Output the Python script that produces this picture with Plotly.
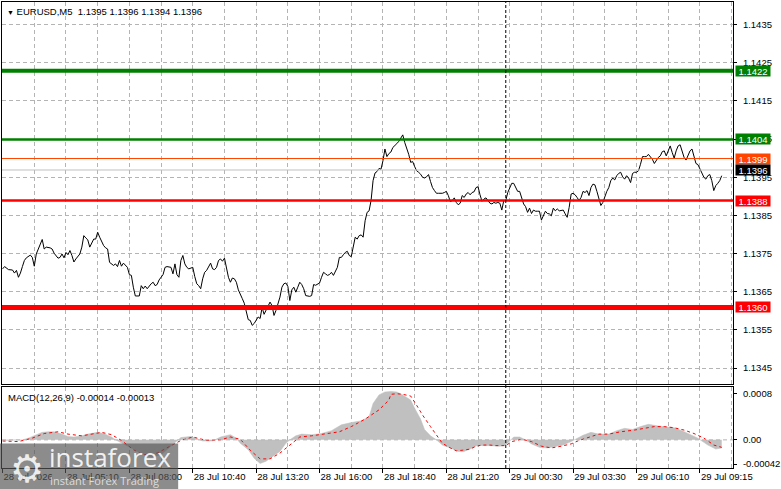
import plotly.graph_objects as go
from plotly.subplots import make_subplots

# ---- data (bar index = M5 bar from the left edge) ----
bars = [0, 1, 3, 5, 6, 7, 8, 9, 10, 11, 12, 13, 14, 15, 16, 17, 18, 19, 20, 21, 22, 24, 25, 26, 28, 29,
        30, 31, 32, 33, 34, 35, 36, 37, 39, 40, 41, 42, 43, 44, 46, 47, 48, 49, 50, 51, 52, 53, 54, 56,
        57, 58, 59, 60, 61, 62, 63, 64, 65, 66, 67, 69, 70, 71, 72, 73, 74, 75, 76, 77, 78, 79, 81, 82,
        83, 85, 86, 87, 88, 89, 90, 91, 92, 93, 94, 96, 97, 98, 99, 100, 101, 102, 103, 104, 105, 106,
        107, 108, 109, 110, 111, 112, 113, 114, 115, 116, 117, 118, 119, 120, 121, 122, 123,
        124, 125, 126, 127, 128, 129, 130, 131, 132, 133, 134, 135, 136, 137, 138, 139, 140, 141, 142,
        143, 144, 145, 146, 147, 148, 149, 150, 151, 152, 153, 154, 155, 156, 157, 158, 159, 160, 161,
        162, 163, 164, 165, 166, 167, 168, 169, 170, 171, 172, 173, 174, 175, 176, 177, 178, 179, 180,
        181, 182, 183, 184, 185, 186, 187, 188, 189, 190, 191, 192, 193, 194, 195, 196, 197, 198, 199,
        200, 201, 202, 203, 204, 205, 206, 207, 208, 209, 210, 211, 212, 213, 214, 215, 216, 217, 218,
        219, 220, 221, 222, 223, 224, 225, 226, 227, 228, 229, 230, 231, 232, 233, 234, 235, 236, 237,
        238, 239, 240, 241, 242, 243, 244, 245, 246, 247, 248, 249, 250, 251, 252, 253, 254, 255, 256,
        257, 258, 259, 260, 261, 262, 263, 264, 265, 266, 267, 268, 269, 270, 271, 272, 273, 274, 275,
        276, 277, 278, 279, 280, 281, 282, 283, 284, 285, 286, 287, 288, 289, 290, 291, 292, 293, 294,
        295, 296, 297, 298, 299, 300, 301, 302, 303, 304, 305, 306, 307, 308, 309, 310, 311, 312, 313,
        314, 315, 316, 317, 318, 319, 320, 321, 322, 323, 324, 325, 326, 327, 328, 329, 330, 331, 332,
        333, 334, 335, 336, 337, 338, 339, 340, 341, 342, 343, 344, 345, 346, 347, 348, 349, 350, 351,
        352, 353, 354, 355, 356, 357, 358, 359, 360, 361, 362, 363]
close = [1.13701, 1.13707, 1.13699, 1.13698, 1.13690, 1.13697, 1.13679, 1.13690, 1.13707, 1.13723,
         1.13730, 1.13733, 1.13737, 1.13731, 1.13708, 1.13740, 1.13753, 1.13766, 1.13778, 1.13753,
         1.13758, 1.13756, 1.13753, 1.13742, 1.13729, 1.13731, 1.13740, 1.13730, 1.13744, 1.13738,
         1.13749, 1.13736, 1.13719, 1.13727, 1.13740, 1.13758, 1.13788, 1.13782, 1.13777, 1.13758,
         1.13779, 1.13779, 1.13797, 1.13784, 1.13771, 1.13762, 1.13756, 1.13753, 1.13718, 1.13710,
         1.13714, 1.13707, 1.13723, 1.13708, 1.13716, 1.13710, 1.13705, 1.13686, 1.13684, 1.13653,
         1.13630, 1.13630, 1.13657, 1.13649, 1.13656, 1.13649, 1.13656, 1.13662, 1.13666, 1.13657,
         1.13660, 1.13672, 1.13686, 1.13705, 1.13707, 1.13705, 1.13688, 1.13714, 1.13686, 1.13679,
         1.13723, 1.13736, 1.13714, 1.13705, 1.13701, 1.13705, 1.13681, 1.13662, 1.13657, 1.13649,
         1.13675, 1.13692, 1.13697, 1.13705, 1.13716, 1.13701, 1.13699, 1.13705, 1.13723, 1.13727,
         1.13721, 1.13729, 1.13701, 1.13679, 1.13666, 1.13677, 1.13675, 1.13666, 1.13646, 1.13636,
         1.13623, 1.13611, 1.13592,
         1.13568, 1.13566, 1.13553, 1.13558, 1.13568, 1.13575, 1.13571, 1.13600, 1.13582, 1.13592,
         1.13601, 1.13614, 1.13605, 1.13579, 1.13592, 1.13610, 1.13627, 1.13653, 1.13662, 1.13664,
         1.13655, 1.13618, 1.13646, 1.13653, 1.13640, 1.13653, 1.13666, 1.13660, 1.13649, 1.13631,
         1.13629, 1.13629, 1.13631, 1.13660, 1.13658, 1.13662, 1.13664, 1.13679, 1.13692, 1.13688,
         1.13684, 1.13686, 1.13692, 1.13684, 1.13697, 1.13705, 1.13731, 1.13731, 1.13738, 1.13744,
         1.13747, 1.13736, 1.13733, 1.13762, 1.13784, 1.13779, 1.13788, 1.13790, 1.13784, 1.13827,
         1.13849, 1.13853, 1.13880, 1.13932, 1.13952, 1.13956, 1.13964, 1.13962, 1.13984, 1.14015,
         1.13995, 1.14003, 1.14007, 1.14019, 1.14023, 1.14029, 1.14035, 1.14045, 1.14052, 1.14032,
         1.14019, 1.14001, 1.13980, 1.13982, 1.13969, 1.13958, 1.13954, 1.13949, 1.13941, 1.13939,
         1.13942, 1.13948, 1.13930, 1.13914, 1.13906, 1.13899, 1.13899, 1.13899, 1.13899, 1.13901,
         1.13904, 1.13893, 1.13877, 1.13880, 1.13887, 1.13875, 1.13869, 1.13873, 1.13893, 1.13888,
         1.13897, 1.13901, 1.13895, 1.13901, 1.13903,
         1.13914, 1.13916, 1.13895, 1.13878, 1.13884, 1.13887, 1.13880, 1.13873, 1.13871, 1.13875,
         1.13873, 1.13875, 1.13873, 1.13855, 1.13880, 1.13880, 1.13901, 1.13914, 1.13925, 1.13925,
         1.13914, 1.13904, 1.13904, 1.13884, 1.13871, 1.13864, 1.13849, 1.13860, 1.13846, 1.13855,
         1.13852, 1.13852, 1.13852, 1.13829, 1.13843, 1.13852, 1.13846, 1.13845, 1.13840, 1.13860,
         1.13853, 1.13858, 1.13853, 1.13855, 1.13855, 1.13845, 1.13836, 1.13862, 1.13897, 1.13899,
         1.13895, 1.13888, 1.13880, 1.13888, 1.13904, 1.13901, 1.13906, 1.13893, 1.13914, 1.13923,
         1.13921, 1.13904, 1.13888, 1.13867, 1.13875, 1.13893, 1.13904, 1.13914, 1.13932, 1.13939,
         1.13934, 1.13945, 1.13951, 1.13954, 1.13942, 1.13936, 1.13945, 1.13939, 1.13927, 1.13951,
         1.13954, 1.13954, 1.13958, 1.13975, 1.13995, 1.13995, 1.13995, 1.14001, 1.13995, 1.13988,
         1.13977, 1.13986, 1.13993, 1.13997, 1.14008, 1.14010, 1.13997, 1.14010, 1.14023, 1.14006,
         1.13991, 1.14010, 1.14023, 1.14026, 1.14006, 1.13993, 1.13986, 1.13997, 1.14010, 1.14015,
         1.13997, 1.13977, 1.13974, 1.13962, 1.13950, 1.13941, 1.13936, 1.13945, 1.13948, 1.13932,
         1.13906, 1.13919, 1.13925, 1.13932, 1.13945, 1.13956]

# MACD main (histogram) and signal
macd_bars = [0, 5, 10, 13, 16, 20, 23, 26, 30, 33, 36, 40, 43, 48, 51, 55, 57, 60, 65, 70, 75, 80,
             85, 88, 90, 95, 98, 101, 106, 110, 115, 118, 120, 124, 127, 130, 133, 136, 140, 143, 145,
             148, 151, 156, 161, 166, 171, 176, 181, 185, 187, 190, 193, 196, 199, 202, 206, 208, 211,
             213, 216, 219, 222, 226, 230, 233, 236, 240, 242, 246, 251, 254, 256, 258, 261, 264, 267,
             271, 275, 279, 283, 287, 289, 293, 297, 301, 306, 310, 314, 318, 322, 326, 331, 335, 339,
             343, 347, 351, 353, 356, 360, 363]
macd_main = [-0.00001, -0.00001, 0.0, 0.00003, 0.00007, 0.00013, 0.00014, 0.00014, 0.00010, 0.00006,
             0.00005, 0.00007, 0.00010, 0.00013, 0.00011, 0.00005, 0.0, -0.00005, -0.00014, -0.00024,
             -0.00030, -0.00026, -0.00011, -0.00001, 0.00004, 0.00006, 0.00002, -0.00002, -0.00002,
             0.00005, 0.00009, 0.00003, -0.00006, -0.00017, -0.00032, -0.00041, -0.00037, -0.00030,
             -0.00020, -0.00006, 0.0, 0.00007, 0.00010, 0.00009, 0.00011, 0.00016, 0.00026, 0.00030,
             0.00033, 0.00040, 0.00063, 0.00078, 0.00083, 0.00084, 0.00083, 0.00078, 0.00069, 0.00055,
             0.00036, 0.00018, 0.00007, 0.0, -0.00009, -0.00014, -0.00020, -0.00020, -0.00016, -0.00009,
             -0.00010, -0.00010, -0.00011, -0.00009, -0.00001, 0.00005, 0.00005, 0.0, -0.00007, -0.00013,
             -0.00014, -0.00011, -0.00009, -0.00003, 0.00001, 0.00008, 0.00013, 0.00010, 0.00010,
             0.00016, 0.00020, 0.00018, 0.00023, 0.00027, 0.00024, 0.00023, 0.00021, 0.00016, 0.00010,
             0.00003, -0.00002, -0.00009, -0.00016, -0.00014]
signal_bars = [0, 8, 15, 21, 28, 33, 40, 45, 50, 55, 60, 66, 71, 78, 85, 90, 96, 103, 110, 115, 120,
               125, 130, 135, 140, 145, 150, 156, 163, 170, 176, 183, 190, 195, 196, 199, 202, 206, 209,
               212, 216, 219, 222, 226, 229, 232, 236, 239, 242, 246, 249, 254, 257, 262, 267, 272, 277,
               282, 287, 291, 296, 301, 306, 312, 319, 324, 329, 334, 339, 344, 349, 354, 359, 363]
macd_signal = [-0.00002, -0.00003, 0.00003, 0.00011, 0.00014, 0.00010, 0.00007, 0.00010, 0.00013,
               0.00009, -0.00001, -0.00017, -0.00026, -0.00023, -0.00010, -0.00001, 0.00005, -0.00001,
               0.0, 0.00005, 0.00001, -0.00018, -0.00033, -0.00033, -0.00023, -0.00009, 0.00005,
               0.00007, 0.00010, 0.00014, 0.00023, 0.00036, 0.00052, 0.00069, 0.00079, 0.00080, 0.00079,
               0.00076, 0.00060, 0.00043, 0.00023, 0.00009, -0.00006, -0.00014, -0.00019, -0.00018,
               -0.00016, -0.00011, -0.00009, -0.00009, -0.00010, -0.00010, -0.00003, 0.00001, -0.00003,
               -0.00011, -0.00014, -0.00011, -0.00007, -0.00001, 0.00005, 0.00010, 0.00010, 0.00014,
               0.00017, 0.00020, 0.00023, 0.00023, 0.00021, 0.00017, 0.00011, 0.00003, -0.00009, -0.00013]

# horizontal levels: value, label, colour, line width
level_values = [1.1422, 1.1404, 1.1399, 1.1396, 1.1388, 1.1360]
level_labels = ["1.1422", "1.1404", "1.1399", "1.1396", "1.1388", "1.1360"]
level_colors = ["#008000", "#008000", "#FF4500", "#C0C0C0", "#FF0000", "#FF0000"]
level_box = ["#008000", "#008000", "#FF4500", "#000000", "#FF0000", "#FF0000"]
level_widths = [4, 2.5, 1, 1, 2.5, 5]

price_ticks = [1.1435, 1.1425, 1.1415, 1.1405, 1.1395, 1.1385, 1.1375, 1.1365, 1.1355, 1.1345]
macd_ticks = [0.0008, 0.0, -0.00042]
macd_tick_text = ["0.0008", "0.00", "-0.00042"]
time_ticks = [0, 32, 64, 96, 128, 160, 192, 224, 256, 288, 320, 352]
time_labels = ["28 Jul 2026", "28 Jul 05:10", "28 Jul 08:00", "28 Jul 10:40", "28 Jul 13:20",
               "28 Jul 16:00", "28 Jul 18:40", "28 Jul 21:20", "29 Jul 00:30", "29 Jul 03:30",
               "29 Jul 06:10", "29 Jul 09:15"]
separator_bar = 254

FONT = "Tahoma, Liberation Sans, Arial, sans-serif"
FS = 9.5
GRID = "#B4B4B4"

fig = make_subplots(rows=2, cols=1, shared_xaxes=True)

fig.add_trace(go.Scatter(x=bars, y=close, mode="lines", line=dict(color="black", width=1),
                         hoverinfo="skip"), row=1, col=1)

fig.add_trace(go.Scatter(x=macd_bars, y=macd_main, mode="lines", fill="tozeroy",
                         fillcolor="#C0C0C0", line=dict(color="#C0C0C0", width=0.5),
                         hoverinfo="skip"), row=2, col=1)
fig.add_trace(go.Scatter(x=signal_bars, y=macd_signal, mode="lines",
                         line=dict(color="#FF0000", width=1, dash="3px,3px"),
                         hoverinfo="skip"), row=2, col=1)

# level lines drawn over the chart, like terminal objects
for v, c, w in zip(level_values, level_colors, level_widths):
    fig.add_shape(type="line", xref="x domain", yref="y", x0=0, x1=1, y0=v, y1=v,
                  line=dict(color=c, width=w), layer="above")
# zero level of MACD window
fig.add_shape(type="line", xref="x2 domain", yref="y2", x0=0, x1=1, y0=0, y1=0,
              line=dict(color=GRID, width=1, dash="4px,3px"), layer="above")

# vertical dashed separator through both windows
fig.add_shape(type="line", xref="x", yref="paper", x0=separator_bar, x1=separator_bar,
              y0=0, y1=1, line=dict(color="black", width=1, dash="3px,2px"))

# price tags on the right scale
for v, t, bc in zip(level_values, level_labels, level_box):
    fig.add_annotation(xref="paper", yref="y", x=1, y=v, xanchor="left", xshift=2,
                       text=t, showarrow=False, bgcolor=bc, width=33, height=9,
                       borderpad=0.5, font=dict(family=FONT, size=FS, color="white"))

fig.add_annotation(xref="paper", yref="paper", x=0, y=1, xanchor="left", yanchor="top",
                   xshift=3, yshift=-2, showarrow=False,
                   text="<span style='font-size:7px'>▼</span> EURUSD,M5  1.1395 1.1396 1.1394 1.1396",
                   font=dict(family=FONT, size=FS, color="black"))
fig.add_annotation(xref="paper", yref="paper", x=0, y=0.1741, xanchor="left", yanchor="top",
                   xshift=4, yshift=-3, showarrow=False,
                   text="MACD(12,26,9) -0.00014 -0.00013",
                   font=dict(family=FONT, size=FS, color="black"))

# instaforex watermark
fig.add_shape(type="rect", xref="paper", yref="paper", x0=-0.003, x1=0.241, y0=-0.046, y1=0.0525,
              fillcolor="rgba(85,85,85,0.68)", line=dict(width=0), layer="above")
fig.add_annotation(xref="paper", yref="paper", x=0.008, y=0.0, xanchor="left", yanchor="middle",
                   yshift=-1, showarrow=False, text="⚙",
                   font=dict(family="DejaVu Sans", size=38, color="rgba(255,255,255,0.85)"))
fig.add_annotation(xref="paper", yref="paper", x=0.061, y=0.023, xanchor="left", yanchor="middle",
                   showarrow=False, text="instaforex",
                   font=dict(family="Open Sans", size=26, color="rgba(255,255,255,0.9)"))
fig.add_annotation(xref="paper", yref="paper", x=0.063, y=-0.026, xanchor="left", yanchor="middle",
                   showarrow=False, text="Instant Forex Trading",
                   font=dict(family="Open Sans", size=11, color="rgba(235,235,235,0.85)"))

xcommon = dict(range=[-0.3, 368.7], showline=True, linecolor="black", linewidth=1, mirror=True,
               tickvals=time_ticks, showgrid=True, gridcolor=GRID, griddash="4px,3px", gridwidth=1,
               minor=dict(dtick=16, tick0=0, showgrid=True, gridcolor=GRID, griddash="4px,3px"),
               zeroline=False)
fig.update_xaxes(**xcommon)
fig.update_xaxes(showticklabels=False, ticks="", row=1, col=1)
fig.update_xaxes(ticktext=time_labels, ticks="outside", ticklen=4, tickcolor="black",
                 ticklabelposition="outside right",
                 tickfont=dict(family=FONT, size=FS, color="black"), row=2, col=1)

fig.update_yaxes(side="right", showline=True, linecolor="black", linewidth=1, mirror=True,
                 zeroline=False, ticks="outside", ticklen=3, tickcolor="black",
                 ticklabelstandoff=4,
                 tickfont=dict(family=FONT, size=FS, color="black"))
fig.update_yaxes(domain=[0.1799, 1.0], range=[1.13399, 1.14400],
                 tickvals=[t - 0.00009 for t in price_ticks],
                 ticktext=[f"{t:.4f}" for t in price_ticks],
                 showgrid=True, gridcolor=GRID, griddash="4px,3px", gridwidth=1, row=1, col=1)
fig.update_yaxes(domain=[0.0, 0.1741], range=[-0.000488, 0.000919],
                 tickvals=macd_ticks, ticktext=macd_tick_text, showgrid=False, row=2, col=1)

fig.update_layout(width=781, height=489, margin=dict(l=2, r=41, t=1, b=21),
                  paper_bgcolor="white", plot_bgcolor="white", showlegend=False)

# the page is photographed at exactly the figure size, so drop the browser's body margin
fig.write_html("out.html", config={"displayModeBar": False},
               post_script="document.body.style.margin='0';")
